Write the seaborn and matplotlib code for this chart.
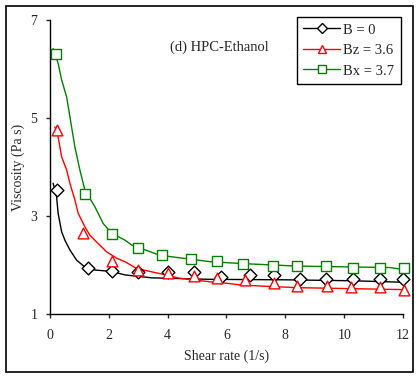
import numpy as np
import pandas as pd
import matplotlib
matplotlib.use("Agg")
import matplotlib.pyplot as plt
from matplotlib.lines import Line2D
from matplotlib.patches import Rectangle
import seaborn as sns

# measured points (markers)
x_b0 = [0.23, 1.30, 2.12, 3.0, 4.02, 4.9, 5.8, 6.8, 7.6, 8.5, 9.39, 10.3, 11.2, 12.0]
y_b0 = [3.53, 1.95, 1.88, 1.85, 1.85, 1.86, 1.75, 1.80, 1.80, 1.71, 1.72, 1.71, 1.71, 1.71]
x_bz = [0.23, 1.13, 2.12, 3.0, 4.02, 4.9, 5.69, 6.63, 7.62, 8.41, 9.41, 10.23, 11.22, 12.02]
y_bz = [4.76, 2.66, 2.08, 1.91, 1.84, 1.78, 1.73, 1.69, 1.64, 1.57, 1.57, 1.55, 1.55, 1.49]
x_bx = [0.2, 1.19, 2.12, 3.0, 3.82, 4.8, 5.67, 6.57, 7.57, 8.39, 9.39, 10.3, 11.2, 12.02]
y_bx = [6.31, 3.45, 2.63, 2.35, 2.21, 2.13, 2.09, 2.03, 1.99, 1.99, 1.98, 1.95, 1.95, 1.95]

# fitted curves
cx_b0 = [0.11, 0.23, 0.28, 0.40, 0.51, 0.68, 0.91, 1.19, 1.53, 2.1, 2.55, 3.46, 5.44, 8.0, 10.3, 12.0]
cy_b0 = [3.67, 3.39, 3.06, 2.68, 2.51, 2.31, 2.10, 1.96, 1.90, 1.87, 1.80, 1.74, 1.71, 1.70, 1.68, 1.65]
cx_bz = [0.17, 0.28, 0.40, 0.57, 0.68, 0.85, 0.96, 1.19, 1.36, 1.64, 1.93, 2.27, 2.55, 2.95,
         3.86, 4.42, 5.44, 6.0, 6.57, 8.4, 12.0]
cy_bz = [4.82, 4.62, 4.21, 3.94, 3.67, 3.33, 3.06, 2.78, 2.61, 2.44, 2.27, 2.14, 2.07, 1.93,
         1.81, 1.73, 1.66, 1.63, 1.59, 1.54, 1.50]
cx_bx = [0.11, 0.28, 0.40, 0.57, 0.68, 0.85, 1.02, 1.19, 1.53, 1.81, 2.1, 2.55, 2.78, 3.74,
         5.44, 6.57, 8.39, 11.56, 12.0]
cy_bx = [6.42, 6.12, 5.78, 5.43, 5.03, 4.41, 3.94, 3.53, 3.19, 2.85, 2.65, 2.51, 2.41, 2.2,
         2.07, 2.03, 1.98, 1.95, 1.91]

labels = ["B = 0", "Bz = 3.6", "Bx = 3.7"]
colors = ["black", "red", "green"]
markers = ["D", "^", "s"]

sns.set_style("ticks")
plt.rcParams["font.family"] = ["Liberation Serif", "DejaVu Serif"]
plt.rcParams["font.size"] = 10

fig = plt.figure(figsize=(4.19, 3.78), dpi=100)
ax = fig.add_axes([0.119, 0.169, 0.843, 0.778])

curves = [(cx_b0, cy_b0), (cx_bz, cy_bz), (cx_bx, cy_bx)]
points = [(x_b0, y_b0), (x_bz, y_bz), (x_bx, y_bx)]
msizes = [42, 60, 55]

for (cx, cy), (px, py), c, m, s in zip(curves, points, colors, markers, msizes):
    sns.lineplot(x=cx, y=cy, ax=ax, color=c, lw=1, sort=False, estimator=None)
    sns.scatterplot(x=px, y=py, ax=ax, marker=m, s=s, facecolor="white",
                    edgecolor=c, linewidth=1, zorder=3, clip_on=False)

ax.set_xlim(0, 12)
ax.set_ylim(1, 7)
ax.set_xticks(range(0, 13, 2))
ax.set_yticks([1, 3, 5, 7])
ax.tick_params(direction="out", length=3, width=1, labelsize=10)
ax.tick_params(axis="x", pad=8)
ax.tick_params(axis="y", pad=6)
sns.despine(ax=ax)
for sp in ["left", "bottom"]:
    ax.spines[sp].set_linewidth(1)
    ax.spines[sp].set_color("black")

ax.set_xlabel("Shear rate (1/s)", fontsize=10, labelpad=5)
ax.set_ylabel("Viscosity (Pa s)", fontsize=10, labelpad=4)
ax.text(0.34, 0.908, "(d) HPC-Ethanol", transform=ax.transAxes, fontsize=10.5, va="center")

handles = [Line2D([], [], color=c, marker=m, markersize=6 if m != "D" else 5,
                  markerfacecolor="white", markeredgecolor=c, lw=1)
           for c, m in zip(colors, markers)]
leg = ax.legend(handles, labels, loc="upper right", bbox_to_anchor=(0.994, 1.011),
                borderaxespad=0, frameon=True, fancybox=False, edgecolor="black",
                framealpha=1, handlelength=2.5, handletextpad=0.25, borderpad=0.45,
                labelspacing=0.5, fontsize=10.5)
leg.get_frame().set_linewidth(1)

fig.patches.append(Rectangle((6 / 419, 6 / 378), 407 / 419, 366 / 378,
                             transform=fig.transFigure, fill=False,
                             edgecolor="black", lw=1.2))

fig.savefig("out.png", dpi=100)
